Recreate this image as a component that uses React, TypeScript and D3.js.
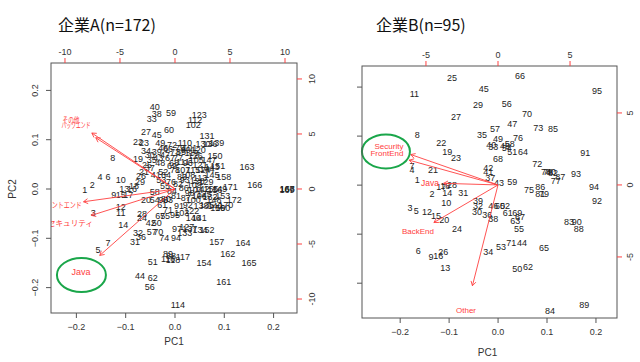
import React from 'react';
import * as d3 from 'd3';

// ---------- Data ----------
const titleA = '企業A(n=172)';
const titleB = '企業B(n=95)';

const leftPC1 = [
  -0.183, -0.168, -0.166, -0.152, -0.156, -0.136, -0.136, -0.126, -0.124, -0.110,
  -0.110, -0.110, -0.103, -0.105, -0.110, -0.087, -0.095, -0.083, -0.075, -0.059,
  -0.063, -0.075, -0.063, -0.067, -0.057, -0.069, -0.059, -0.067, -0.071, -0.051,
  -0.081, -0.075, -0.047, -0.059, -0.047, -0.069, -0.051, -0.037, -0.037, -0.041,
  -0.039, -0.049, -0.034, -0.071, -0.037, -0.024, -0.020, -0.030, -0.030, -0.037,
  -0.045, -0.024, -0.028, -0.041, -0.020, -0.051, -0.047, -0.041, -0.008, -0.012,
  -0.026, -0.045, -0.014, -0.018, -0.030, -0.014, -0.010, -0.002, -0.006, -0.034,
  -0.014, -0.006, 0.000, -0.022, -0.020, -0.008, 0.006, 0.000, 0.010, -0.018,
  0.002, 0.006, 0.014, -0.006, 0.012, 0.018, 0.022, -0.008, -0.014, -0.024,
  0.008, 0.026, 0.020, 0.002, 0.000, 0.026, 0.004, 0.030, 0.022, 0.037,
  0.030, 0.037, 0.014, 0.041, 0.043, 0.049, 0.016, 0.026, 0.039, 0.020,
  0.016, 0.041, 0.051, 0.006, 0.037, -0.014, 0.016, -0.004, 0.034, 0.047,
  0.051, 0.034, 0.049, 0.057, 0.059, 0.041, 0.024, 0.045, 0.063, 0.057,
  0.065, 0.071, 0.020, 0.051, 0.065, 0.071, 0.030, 0.053, 0.085, 0.081,
  0.049, 0.055, 0.075, 0.065, 0.075, 0.037, 0.069, 0.079, 0.091, 0.081,
  0.087, 0.065, 0.097, 0.059, 0.073, 0.081, 0.085, 0.099, 0.087, 0.097,
  0.099, 0.107, 0.146, 0.138, 0.150, 0.162, 0.227, 0.228, 0.227, 0.103,
  0.112, 0.120,
];
const leftPC2 = [
  -0.002, 0.008, -0.049, 0.024, -0.124, 0.024, -0.110, 0.063, -0.012, 0.018,
  -0.049, -0.037, 0.000, -0.073, -0.012, 0.000, -0.012, 0.006, 0.061, -0.022,
  0.034, 0.095, 0.093, -0.059, 0.049, 0.026, 0.116, -0.051, 0.014, 0.069,
  -0.107, -0.089, 0.142, 0.077, 0.059, -0.097, 0.043, 0.152, 0.075, 0.166,
  0.028, -0.069, 0.063, -0.176, 0.110, 0.083, 0.069, 0.053, 0.093, -0.069,
  -0.148, 0.034, 0.018, -0.022, 0.006, -0.199, -0.087, -0.006, 0.154, 0.120,
  -0.032, -0.180, -0.022, 0.028, -0.055, 0.081, 0.063, 0.053, 0.047, -0.087,
  -0.043, 0.089, 0.075, -0.099, -0.055, 0.014, 0.063, 0.039, 0.083, -0.020,
  -0.014, 0.010, 0.024, -0.004, 0.075, 0.002, -0.018, -0.136, -0.132, -0.022,
  -0.034, -0.032, 0.018, -0.099, -0.053, 0.053, -0.081, -0.008, 0.079, -0.022,
  0.083, 0.130, -0.049, -0.002, 0.059, -0.014, 0.039, 0.028, 0.008, 0.093,
  0.055, 0.140, 0.022, -0.235, 0.039, -0.142, -0.138, -0.144, 0.073, 0.079,
  0.049, -0.045, 0.150, 0.039, -0.010, 0.067, -0.077, 0.016, 0.014, 0.091,
  0.107, -0.016, -0.089, -0.083, -0.032, 0.091, -0.081, -0.034, 0.093, -0.034,
  -0.059, 0.000, 0.045, 0.041, 0.028, -0.059, 0.059, -0.022, 0.000, 0.067,
  0.047, -0.083, -0.014, -0.150, 0.000, -0.002, -0.107, 0.024, -0.039, -0.039,
  -0.189, -0.132, 0.045, -0.110, -0.150, 0.008, 0.000, 0.001, -0.001, -0.032,
  0.004, -0.022,
];
const leftVarNames = ['その他', 'バックエンド', 'フロントエンド', 'セキュリティ', 'Java'];
const leftLoad1 = [-9.45, -9.0, -10.39, -9.5, -8.55];
const leftLoad2 = [6.36, 5.82, -1.45, -3.0, -7.55];

const rightPC1 = [
  -0.165, -0.135, -0.180, -0.176, -0.167, -0.163, -0.176, -0.165, -0.137, -0.106,
  -0.171, -0.145, -0.108, -0.104, -0.127, -0.122, -0.116, -0.108, -0.104, -0.110,
  -0.133, -0.116, -0.086, -0.084, -0.094, -0.112, -0.086, -0.094, -0.041, -0.043,
  -0.071, -0.041, -0.010, -0.020, -0.033, -0.022, -0.016, -0.010, -0.041, -0.014,
  -0.020, -0.020, 0.002, 0.049, -0.029, -0.010, 0.029, 0.014, 0.000, 0.039,
  0.029, 0.014, 0.006, 0.018, 0.043, 0.018, -0.006, 0.024, 0.029, 0.004,
  0.020, 0.061, 0.035, 0.051, 0.094, 0.045, 0.045, 0.000, 0.039, 0.059,
  0.027, 0.080, 0.082, 0.098, 0.063, 0.041, 0.118, 0.102, 0.094, 0.108,
  0.086, 0.112, 0.145, 0.106, 0.112, 0.086, 0.127, 0.165, 0.176, 0.161,
  0.178, 0.202, 0.159, 0.196, 0.202,
];
const rightPC2 = [
  0.010, -0.018, -0.047, 0.031, -0.053, -0.135, 0.039, 0.102, -0.147, -0.037,
  0.186, -0.055, -0.169, -0.016, -0.063, -0.145, -0.004, -0.002, 0.067, -0.071,
  0.031, 0.086, 0.055, -0.090, 0.218, -0.137, 0.139, 0.000, 0.163, -0.055,
  -0.016, -0.043, 0.078, -0.137, 0.102, -0.061, 0.014, -0.069, -0.033, 0.082,
  0.027, 0.035, 0.004, -0.118, 0.196, -0.043, 0.124, 0.080, 0.094, -0.171,
  0.067, -0.043, -0.127, 0.076, -0.090, 0.165, 0.114, 0.084, 0.006, -0.043,
  -0.057, -0.167, -0.073, 0.067, -0.129, 0.222, -0.065, 0.053, -0.057, 0.145,
  -0.118, 0.043, 0.116, 0.027, -0.010, 0.096, 0.008, 0.027, -0.018, 0.027,
  -0.018, 0.024, -0.076, -0.257, 0.114, -0.004, 0.016, -0.090, -0.245, -0.076,
  0.065, -0.033, 0.022, -0.004, 0.192,
];
const rightVarNames = ['Security', 'FrontEnd', 'Java', 'BackEnd', 'Other'];
const rightLoad1 = [-7.57, -7.71, -4.72, -5.56, -2.22];
const rightLoad2 = [2.64, 2.15, 0.14, -3.26, -8.75];

const pcTicks = [-0.2, -0.1, 0, 0.1, 0.2];
const leftLoadTicks = [-10, -5, 0, 5, 10];
const rightLoadTicks = [-5, 0, 5];

// ---------- Styles ----------
const FONT = "'Liberation Sans', Arial, 'Noto Sans CJK JP', sans-serif";
const JFONT = "'Noto Sans CJK JP', 'Liberation Sans', sans-serif";
const RED = '#ff4040';
const GREEN = '#1aa64a';
const AXIS = '#555';
const TXT = '#333';

// per-label text style (font size, squeezed width) for the variable labels
const leftVarStyle = [
  { size: 8, width: 17 },
  { size: 8, width: 29 },
  { size: 8, width: 42 },
  { size: 8, width: 45 },
  { size: 9, width: 0 },
];
const rightVarStyle = [
  { size: 8, width: 0 },
  { size: 8, width: 0 },
  { size: 8.5, width: 0 },
  { size: 8, width: 0 },
  { size: 8, width: 0 },
];

type Cfg = {
  id: string;
  x0: number; x1: number; y0: number; y1: number;
  pcX: [number, number]; pcY: [number, number];
  ldX: [number, number]; ldY: [number, number];
  leftLabels: boolean;
  bottomLabelY: number;
  pc1Y: number;
  rightLabelX: number;
  loadTicks: number[];
};

function fmt(v: number) {
  return d3.format('.1f')(v);
}

function Biplot(props: {
  cfg: Cfg; pc1: number[]; pc2: number[];
  names: string[]; l1: number[]; l2: number[];
  styles: { size: number; width: number }[];
  ellipse: { idx: number[]; dx: number; dy: number; rx: number; ry: number };
}) {
  const { cfg, pc1, pc2, names, l1, l2, ellipse, styles } = props;
  const x = d3.scaleLinear().domain(cfg.pcX).range([cfg.x0, cfg.x1]);
  const y = d3.scaleLinear().domain(cfg.pcY).range([cfg.y1, cfg.y0]);
  const lx = d3.scaleLinear().domain(cfg.ldX).range([cfg.x0, cfg.x1]);
  const ly = d3.scaleLinear().domain(cfg.ldY).range([cfg.y1, cfg.y0]);
  const ox = lx(0), oy = ly(0);
  const clipId = 'clip-' + cfg.id;
  const ex = d3.mean(ellipse.idx, (i) => lx(l1[i])) as number;
  const ey = d3.mean(ellipse.idx, (i) => ly(l2[i])) as number;
  return (
    <g>
      <defs>
        <clipPath id={clipId}>
          <rect x={cfg.x0} y={cfg.y0} width={cfg.x1 - cfg.x0} height={cfg.y1 - cfg.y0} />
        </clipPath>
      </defs>
      <g clipPath={`url(#${clipId})`}>
        {pc1.map((v, i) => (
          <text key={i} x={x(v)} y={y(pc2[i])} textAnchor="middle" dominantBaseline="central"
            fontSize={9} fontFamily={FONT} fill="#222">{i + 1}</text>
        ))}
        {l1.map((v, i) => {
          const ex2 = lx(v * 0.8), ey2 = ly(l2[i] * 0.8);
          const a = Math.atan2(ey2 - oy, ex2 - ox);
          const hl = 5, ha = Math.PI / 6;
          const p1 = [ex2 - hl * Math.cos(a - ha), ey2 - hl * Math.sin(a - ha)];
          const p2 = [ex2 - hl * Math.cos(a + ha), ey2 - hl * Math.sin(a + ha)];
          return (
            <g key={'a' + i} stroke={RED} strokeWidth={0.9} fill="none">
              <line x1={ox} y1={oy} x2={ex2} y2={ey2} />
              <polyline points={`${p1[0]},${p1[1]} ${ex2},${ey2} ${p2[0]},${p2[1]}`} />
            </g>
          );
        })}
        {names.map((n, i) => {
          const st = styles[i];
          const extra: any = st.width > 0 ? { textLength: st.width, lengthAdjust: 'spacingAndGlyphs' } : {};
          return (
            <text key={'n' + i} x={lx(l1[i])} y={ly(l2[i])} textAnchor="middle" dominantBaseline="central"
              fontSize={st.size} fontFamily={/^[A-Za-z]/.test(n) ? FONT : JFONT} fill={RED} {...extra}>{n}</text>
          );
        })}
      </g>
      <ellipse cx={ex + ellipse.dx} cy={ey + ellipse.dy} rx={ellipse.rx} ry={ellipse.ry}
        fill="none" stroke={GREEN} strokeWidth={2} />
      <rect x={cfg.x0} y={cfg.y0} width={cfg.x1 - cfg.x0} height={cfg.y1 - cfg.y0}
        fill="none" stroke={AXIS} strokeWidth={1} />
      {/* bottom axis */}
      {pcTicks.map((t) => (
        <g key={'b' + t}>
          <line x1={x(t)} x2={x(t)} y1={cfg.y1} y2={cfg.y1 + 5} stroke={AXIS} />
          <text x={x(t)} y={cfg.bottomLabelY} textAnchor="middle" dominantBaseline="central"
            fontSize={9} fontFamily={FONT} fill={TXT}>{fmt(t)}</text>
        </g>
      ))}
      {/* left axis */}
      {pcTicks.map((t) => (
        <g key={'l' + t}>
          <line x1={cfg.x0 - 5} x2={cfg.x0} y1={y(t)} y2={y(t)} stroke={AXIS} />
          {cfg.leftLabels && (
            <text transform={`translate(${cfg.x0 - 16},${y(t)}) rotate(-90)`} textAnchor="middle"
              dominantBaseline="central" fontSize={9} fontFamily={FONT} fill={TXT}>{fmt(t)}</text>
          )}
        </g>
      ))}
      {/* top axis (loadings) */}
      {cfg.loadTicks.map((t) => (
        <g key={'t' + t}>
          <line x1={lx(t)} x2={lx(t)} y1={cfg.y0 - 5} y2={cfg.y0} stroke={RED} />
          <text x={lx(t)} y={cfg.y0 - 11} textAnchor="middle" dominantBaseline="central"
            fontSize={9} fontFamily={FONT} fill={TXT}>{t}</text>
        </g>
      ))}
      {/* right axis (loadings) */}
      {cfg.loadTicks.map((t) => (
        <g key={'r' + t}>
          <line x1={cfg.x1} x2={cfg.x1 + 5} y1={ly(t)} y2={ly(t)} stroke={RED} />
          <text transform={`translate(${cfg.rightLabelX},${ly(t)}) rotate(-90)`} textAnchor="middle"
            dominantBaseline="central" fontSize={9} fontFamily={FONT} fill={TXT}>{t}</text>
        </g>
      ))}
      <text x={(cfg.x0 + cfg.x1) / 2 + (cfg.leftLabels ? 0 : -2)} y={cfg.pc1Y} textAnchor="middle"
        dominantBaseline="central" fontSize={10} fontFamily={FONT} fill={TXT}>PC1</text>
      {cfg.leftLabels && (
        <text transform={`translate(12,${y(0)}) rotate(-90)`} textAnchor="middle"
          dominantBaseline="central" fontSize={10} fontFamily={FONT} fill={TXT}>PC2</text>
      )}
    </g>
  );
}

const cfgA: Cfg = {
  id: 'a', x0: 51, x1: 297, y0: 63, y1: 313,
  pcX: [-0.2515, 0.2475], pcY: [-0.2515, 0.2556],
  ldX: [-11.27, 11.09], ldY: [-11.27, 11.45],
  leftLabels: true, bottomLabelY: 327, pc1Y: 341, rightLabelX: 312,
  loadTicks: leftLoadTicks,
};
const cfgB: Cfg = {
  id: 'b', x0: 362, x1: 617, y0: 66, y1: 318,
  pcX: [-0.278, 0.243], pcY: [-0.271, 0.243],
  ldX: [-9.44, 8.26], ldY: [-9.24, 8.26],
  leftLabels: false, bottomLabelY: 332, pc1Y: 352, rightLabelX: 630,
  loadTicks: rightLoadTicks,
};

export default function App() {
  return (
    <svg width={640} height={362} viewBox="0 0 640 362"
      style={{ position: 'absolute', left: 0, top: 0, background: '#fff' }}>
      <rect x={0} y={0} width={640} height={362} fill="#fff" />
      <text x={58} y={31} fontSize={16} fontFamily={JFONT} fill="#111">{titleA}</text>
      <text x={376} y={31} fontSize={16} fontFamily={JFONT} fill="#111">{titleB}</text>
      <Biplot cfg={cfgA} pc1={leftPC1} pc2={leftPC2} names={leftVarNames} l1={leftLoad1} l2={leftLoad2}
        styles={leftVarStyle}
        ellipse={{ idx: [4], dx: 0.5, dy: 3, rx: 24.5, ry: 17 }} />
      <Biplot cfg={cfgB} pc1={rightPC1} pc2={rightPC2} names={rightVarNames} l1={rightLoad1} l2={rightLoad2}
        styles={rightVarStyle}
        ellipse={{ idx: [0, 1], dx: -2, dy: 1, rx: 24, ry: 17 }} />
    </svg>
  );
}
